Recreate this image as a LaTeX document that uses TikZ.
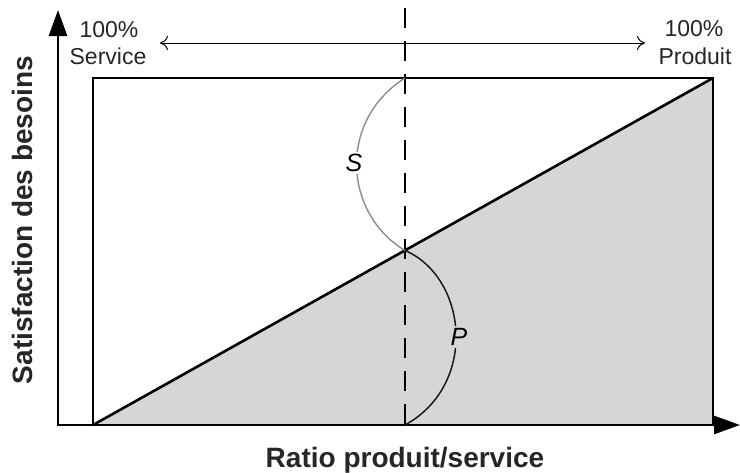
\documentclass[tikz,border=0pt]{standalone}
\usepackage{fontspec}
\setmainfont{Liberation Sans}
\usetikzlibrary{arrows.meta}
\definecolor{areagray}{RGB}{214,214,214}
\tikzset{
  axisline/.style={line width=2.8pt,-{Triangle[length=26pt,width=18pt]}},
  frameline/.style={line width=2pt},
  diagline/.style={line width=2.6pt},
  divider/.style={line width=2.8pt,dash pattern=on 20pt off 13pt},
  curveS/.style={line width=1.4pt,draw=black!45},
  curveP/.style={line width=1.5pt,draw=black!90},
  endlabel/.style={font=\fontsize{23}{27}\selectfont,align=center,inner sep=0pt,text=black!85},
  axlabel/.style={font=\fontsize{28}{32}\selectfont\bfseries,text=black!85,inner sep=0pt},
  curvelabel/.style={font=\fontsize{25}{28}\selectfont\itshape,inner sep=2pt},
  rangearrow/.style={line width=1pt,{To[length=8pt,width=14pt]}-{To[length=8pt,width=14pt]}}
}
\begin{document}
\begin{tikzpicture}[x=1pt,y=-1pt]
\useasboundingbox (0,0) rectangle (740,472);
% corners
\coordinate (O) at (93,425);
\coordinate (TL) at (93,78);
\coordinate (TR) at (713,78);
\coordinate (BR) at (713,425);
\coordinate (Mtop) at (405,78);
\coordinate (Mmid) at (405,250.4);
\coordinate (Mbot) at (405,425);
\coordinate (Dtop) at (405,8);
% shaded area
\fill[areagray] (O) -- (TR) -- (BR) -- cycle;
% frame
\draw[frameline] (O) -- (TL) -- (TR) -- (BR);
% diagonal
\draw[diagline] (O) -- (TR);
% axes
\coordinate (Yb) at (58,426);
\coordinate (Yt) at (58,10);
\coordinate (Xl) at (57,425);
\coordinate (Xr) at (740,425);
\draw[axisline] (Yb) -- (Yt);
\draw[axisline] (Xl) -- (Xr);
% dashed divider
\draw[divider] (Dtop) -- (Mbot);
% curves
\draw[curveS] (Mtop) .. controls (336,122) and (345,215) .. (Mmid);
\node[curvelabel,fill=white] (S) at (354,163) {S};
\draw[curveP] (Mmid) .. controls (468,278) and (478,385) .. (Mbot);
\node[curvelabel,fill=areagray] (P) at (459,337) {P};
% top labels
\node[endlabel,anchor=base] (s100) at (109,37) {100\%};
\node[endlabel,anchor=base] (serv) at (108,64) {Service};
\node[endlabel,anchor=base] (p100) at (694,36) {100\%};
\node[endlabel,anchor=base] (prod) at (695,64) {Produit};
\coordinate (Rl) at (160,43);
\coordinate (Rr) at (645,43);
\draw[rangearrow] (Rl) -- (Rr);
% axis labels
\node[axlabel,anchor=base] (xl) at (405,467) {Ratio produit/service};
\node[axlabel,anchor=base,rotate=90] (yl) at (32,220) {Satisfaction des besoins};
\end{tikzpicture}
\end{document}
